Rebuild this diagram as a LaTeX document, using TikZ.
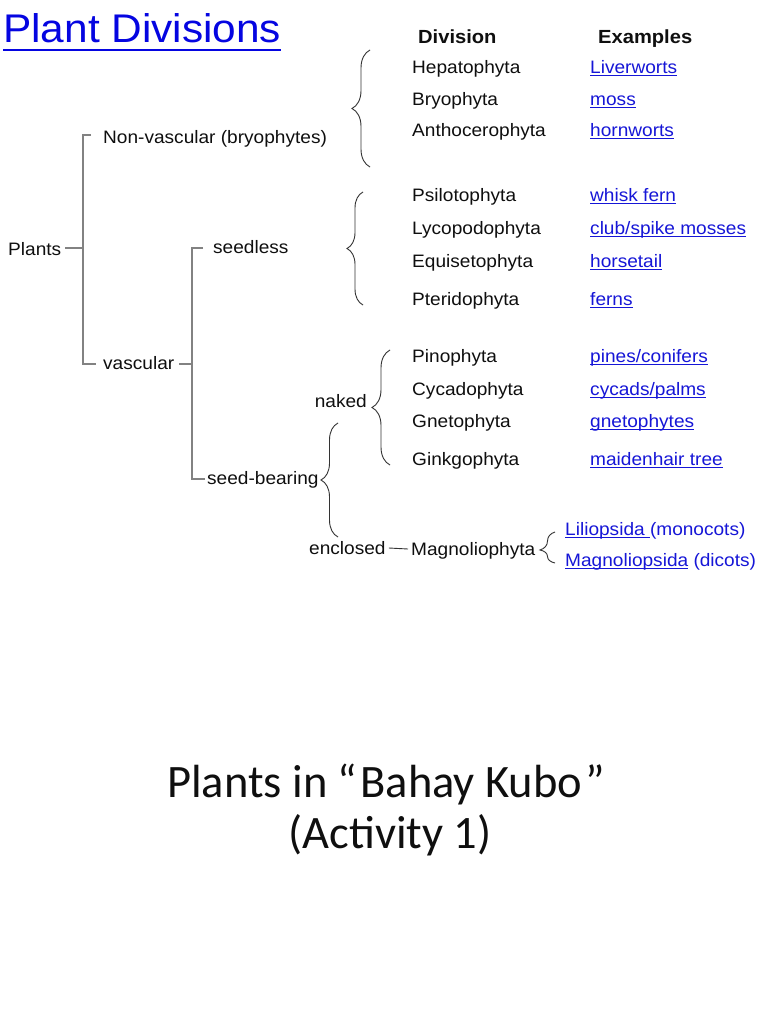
\documentclass[tikz,border=0pt]{standalone}
\usepackage{fontspec}
\setmainfont{Liberation Sans}[FakeStretch=1.06]
\newfontfamily\calib{Carlito}
\usetikzlibrary{decorations.pathreplacing}
\definecolor{linkblue}{RGB}{22,22,215}
\definecolor{titleblue}{RGB}{5,5,225}
\definecolor{treegray}{RGB}{130,130,130}
\definecolor{ink}{RGB}{15,15,15}
\newcommand\lnk[1]{\setbox0\hbox{\color{linkblue}#1}\rlap{\color{linkblue}\rule[-2.4pt]{\wd0}{0.9pt}}\box0\relax}
\begin{document}
\begin{tikzpicture}[x=1pt,y=-1pt,
  lbl/.style={anchor=base west,inner sep=0pt,text=ink,font=\fontsize{18}{20}\selectfont},
  hdr/.style={anchor=base west,inner sep=0pt,text=ink,font=\bfseries\fontsize{19}{21}\selectfont},
  tree/.style={draw=treegray,line width=1.2pt},
  curly/.style={draw=ink!85,line width=0.9pt,decorate,decoration={brace,amplitude=#1}},
  big/.style={anchor=base,inner sep=0pt,text=ink,font=\calib\fontsize{46.5}{56}\selectfont}]
\fill[white] (0,0) rectangle (768,1024);
\useasboundingbox (0,0) rectangle (768,1024);

% title
\node[anchor=base west,inner sep=0pt,text=titleblue,font=\fontsize{40}{44}\selectfont] (title) at (3,43) {Plant Divisions};
\draw[titleblue,line width=2.2pt] ([shift={(0,7)}]title.base west) -- ([shift={(0,7)}]title.base east);

% headers
\node[hdr] (hdiv) at (418,44) {Division};
\node[hdr] (hex) at (598,44) {Examples};

% tree labels
\node[lbl] (plants) at (8,255) {Plants};
\node[lbl] (nonvasc) at (103,144) {Non-vascular (bryophytes)};
\node[lbl] (vasc) at (103,369) {vascular};
\node[lbl] (seedless) at (213,253) {seedless};
\node[lbl] (seedbear) at (207,484) {seed-bearing};
\node[lbl,anchor=base east] (naked) at (367,407) {naked};
\node[lbl] (enclosed) at (309,554) {enclosed};
\node[lbl] (magnolio) at (411,555) {Magnoliophyta};
\node[lbl] (lilio) at (565,535) {\lnk{Liliopsida\ }(monocots)};
\node[lbl] (magnop) at (565,566) {\lnk{Magnoliopsida} (dicots)};

% division rows
\foreach \n/\d/\e/\y in {hep/Hepatophyta/Liverworts/74,
  bry/Bryophyta/moss/106,
  ant/Anthocerophyta/hornworts/137,
  psi/Psilotophyta/whisk fern/202,
  lyc/Lycopodophyta/club\slash spike mosses/234,
  equ/Equisetophyta/horsetail/267,
  pte/Pteridophyta/ferns/305,
  pin/Pinophyta/pines\slash conifers/362,
  cyc/Cycadophyta/cycads\slash palms/395,
  gne/Gnetophyta/gnetophytes/427,
  gin/Ginkgophyta/maidenhair tree/465}{
  \node[lbl] (div-\n) at (412,\y) {\d};
  \node[lbl] (ex-\n) at (590,\y) {\lnk{\e}};
}

% tree connectors
\draw[tree] ([shift={(4,-7)}]plants.base east) -- (83,248);
\draw[tree] ([shift={(-12,-9)}]nonvasc.base west) -- (83,135) -- (83,364) -- ([shift={(-7,-5)}]vasc.base west);
\draw[tree] ([shift={(5,-5)}]vasc.base east) -- (192,364);
\draw[tree] ([shift={(-10,-5)}]seedless.base west) -- (192,248) -- (192,479) -- ([shift={(-2,-5)}]seedbear.base west);
\draw[ink!85,line width=0.9pt] ([shift={(3,-6)}]enclosed.base east) -- ([shift={(-3,-6)}]magnolio.base west);

% braces
\draw[curly=18] (370,167) -- (370,50);
\draw[curly=16] (363,305) -- (363,192);
\draw[curly=18] (390,465) -- (390,350);
\draw[curly=17] (338,537) -- (338,423);
\draw[curly=15,decoration={aspect=0.42}] (555,563) -- (555,532);

% bottom title
\node[big] (t1) at (386,797) {Plants in “\hspace{3pt}Bahay Kubo\hspace{3pt}”};
\node[big] (t2) at (390,848) {(Activity 1)};
\end{tikzpicture}
\end{document}
